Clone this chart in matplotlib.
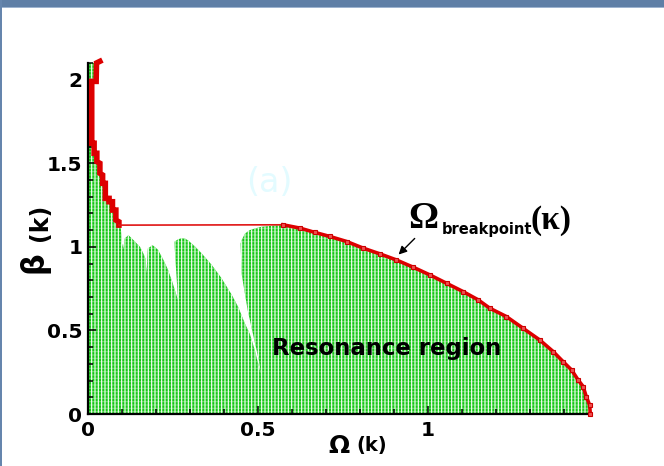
import matplotlib
matplotlib.use("Agg")
import matplotlib.pyplot as plt
from matplotlib.patches import Rectangle
from matplotlib.ticker import MultipleLocator

# Breakpoint curve, staircase part at small Omega
stair_omega = [0.035, 0.025, 0.024, 0.011, 0.011, 0.018, 0.018, 0.026, 0.026,
               0.035, 0.035, 0.043, 0.043, 0.051, 0.051, 0.062, 0.062, 0.072, 0.072,
               0.082, 0.082, 0.091, 0.091]
stair_beta = [2.11, 2.10, 1.99, 1.99, 1.62, 1.62, 1.56, 1.56, 1.51,
              1.50, 1.44, 1.43, 1.38, 1.38, 1.29, 1.29, 1.27, 1.27, 1.22,
              1.22, 1.16, 1.15, 1.13]

# Breakpoint curve Omega_breakpoint(kappa)
bp_omega = [0.574, 0.624, 0.668, 0.712, 0.761, 0.810, 0.859, 0.907, 0.957, 1.006,
            1.055, 1.104, 1.148, 1.182, 1.231, 1.280, 1.329, 1.369, 1.398, 1.423,
            1.442, 1.457, 1.466, 1.476, 1.478]
bp_beta = [1.132, 1.112, 1.086, 1.062, 1.032, 0.992, 0.958, 0.922, 0.878, 0.832,
           0.782, 0.732, 0.683, 0.633, 0.583, 0.513, 0.443, 0.373, 0.313, 0.263,
           0.204, 0.164, 0.104, 0.054, 0.0]

# Upper edge of the resonance region between the staircase and the breakpoint curve
edge_omega = [0.096, 0.100, 0.104, 0.108, 0.119, 0.134, 0.153, 0.163, 0.169, 0.172, 0.176,
              0.190, 0.205, 0.220, 0.235, 0.248, 0.265,
              0.254, 0.265, 0.275, 0.285, 0.295, 0.315, 0.334, 0.364, 0.393, 0.423,
              0.442, 0.462, 0.476, 0.491, 0.501, 0.508,
              0.503, 0.494, 0.483, 0.470, 0.460, 0.452, 0.449,
              0.452, 0.462, 0.476, 0.491, 0.510, 0.535]
edge_beta = [1.125, 1.02, 0.99, 1.05, 1.07, 1.04, 1.00, 0.96, 0.93, 0.84, 0.99,
             1.01, 0.985, 0.93, 0.865, 0.79, 0.68,
             1.03, 1.045, 1.052, 1.05, 1.038, 1.002, 0.962, 0.892, 0.812, 0.713,
             0.64, 0.54, 0.48, 0.38, 0.30, 0.24,
             0.32, 0.40, 0.50, 0.62, 0.74, 0.84, 1.02,
             1.04, 1.08, 1.10, 1.11, 1.12, 1.125]

x_major = [0, 0.5, 1]
y_major = [0, 0.5, 1, 1.5, 2]

plt.rcParams['font.family'] = ['DejaVu Sans']
plt.rcParams['font.weight'] = 'bold'
plt.rcParams['hatch.linewidth'] = 0.8

W, H = 664, 466
fig = plt.figure(figsize=(W / 100, H / 100), dpi=100)
fig.patch.set_facecolor('white')


def fx(px):
    return px / W


def fy(py):
    return 1 - py / H


# window frame strips
fig.patches.append(Rectangle((0, 1 - 7 / H), 1, 7 / H, transform=fig.transFigure,
                             facecolor='#5f7fa6', edgecolor='none', zorder=0))
fig.patches.append(Rectangle((0, 1 - 8 / H), 1, 1 / H, transform=fig.transFigure,
                             facecolor='#9db3cf', edgecolor='none', zorder=0))
fig.patches.append(Rectangle((0, 0), 2 / W, 1, transform=fig.transFigure,
                             facecolor='#6585ad', edgecolor='none', zorder=0))

ax = fig.add_axes([88 / W, 52 / H, 503 / W, 351 / H])
ax.set_facecolor('none')
ax.set_xlim(0, 1.48)
ax.set_ylim(0, 2.1)

# resonance region
poly_x = [0.0, 0.0] + stair_omega + edge_omega + bp_omega
poly_y = [0.0, stair_beta[0]] + stair_beta + edge_beta + bp_beta
green = '#16c816'
ax.fill(poly_x, poly_y, facecolor=green, edgecolor='white', hatch='|||||',
        linewidth=0, zorder=1)
ax.fill(poly_x, poly_y, facecolor='none', edgecolor=(1, 1, 1, 0.35), hatch='-----',
        linewidth=0, zorder=1.1)

# breakpoint curve
ax.plot(stair_omega, stair_beta, color='#dd0000', lw=4, solid_joinstyle='miter',
        clip_on=False, zorder=4)
ax.plot([stair_omega[-1], bp_omega[0]], [stair_beta[-1], bp_beta[0]],
        color='#e01515', lw=1.2, zorder=4)
ax.plot(bp_omega, bp_beta, color='#dd0000', lw=2.6, marker='s', ms=3.5,
        mfc='#f05050', mec='#cc0000', mew=0.8, clip_on=False, zorder=5)

# axes styling
for side in ('top', 'right'):
    ax.spines[side].set_visible(False)
for side in ('left', 'bottom'):
    ax.spines[side].set_linewidth(1.6)
ax.set_xticks(x_major)
ax.set_yticks(y_major)
ax.set_xticklabels(['0', '0.5', '1'])
ax.set_yticklabels(['0', '0.5', '1', '1.5', '2'])
ax.xaxis.set_minor_locator(MultipleLocator(0.1))
ax.yaxis.set_minor_locator(MultipleLocator(0.1))
ax.tick_params(which='both', direction='in', top=False, right=False, width=1.1)
ax.tick_params(which='major', length=6, labelsize=14.5)
ax.tick_params(which='minor', length=3.5)
ax.tick_params(axis='x', which='major', pad=5)
ax.tick_params(axis='y', which='major', pad=4)

# annotation
ax.annotate('', xy=(0.908, 0.942), xytext=(0.967, 1.062),
            arrowprops=dict(arrowstyle='-|>', color='black', lw=1.0, mutation_scale=12),
            zorder=6)
fig.text(fx(408), fy(228), 'Ω', family='Liberation Serif', fontweight='bold',
         fontsize=27, ha='left', va='baseline')
fig.text(fx(442), fy(234), 'breakpoint', fontweight='bold', fontsize=10.5,
         ha='left', va='baseline')
fig.text(fx(530), fy(229), '(κ)', family='Liberation Serif', fontweight='bold',
         fontsize=24, ha='left', va='baseline')

fig.text(fx(387), fy(349), 'Resonance region', fontweight='bold', fontsize=16.4,
         ha='center', va='center')
fig.text(fx(269), fy(182), '(a)', fontweight='normal', fontsize=24, color='#e3fbff',
         ha='center', va='center')

# axis labels
fig.text(fx(339), fy(446), 'Ω', fontweight='bold', fontsize=18, ha='center', va='center')
fig.text(fx(372), fy(446), '(k)', fontweight='bold', fontsize=14, ha='center', va='center')
fig.text(fx(34), fy(262), 'β', fontweight='bold', fontsize=22, rotation=90,
         ha='center', va='center')
fig.text(fx(40), fy(222), '(k)', fontweight='bold', fontsize=17, rotation=90,
         ha='center', va='center')

fig.savefig('out.png', dpi=100)
